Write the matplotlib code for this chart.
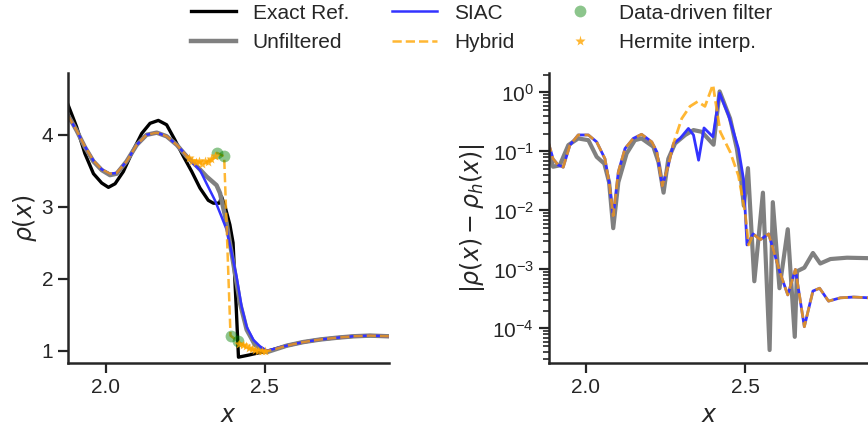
import matplotlib
matplotlib.use("Agg")
import matplotlib.pyplot as plt
from matplotlib.lines import Line2D

plt.rcParams['font.family'] = ['Liberation Sans', 'DejaVu Sans']
plt.rcParams['mathtext.fontset'] = 'dejavusans'
plt.rcParams['text.color'] = '#262626'
plt.rcParams['axes.labelcolor'] = '#262626'
plt.rcParams['xtick.color'] = '#262626'
plt.rcParams['ytick.color'] = '#262626'

# ---- left panel: density ----
x_exact = [1.88, 1.908, 1.934, 1.961, 1.987, 2.008, 2.029, 2.055, 2.081, 2.113, 2.139, 2.165,
           2.191, 2.217, 2.244, 2.270, 2.296, 2.322, 2.338, 2.357, 2.364, 2.375, 2.39, 2.40,
           2.41, 2.417, 2.45, 2.48, 2.506, 2.569, 2.621, 2.673, 2.726, 2.778, 2.831, 2.89]
rho_exact = [4.43, 4.11, 3.74, 3.46, 3.33, 3.27, 3.32, 3.49, 3.74, 4.02, 4.16, 4.20,
             4.14, 3.93, 3.70, 3.49, 3.26, 3.09, 3.05, 3.05, 3.14, 3.00, 2.75, 2.50,
             1.60, 0.91, 0.94, 0.97, 0.99, 1.07, 1.12, 1.155, 1.18, 1.20, 1.21, 1.20]

x_unf = [1.88, 1.908, 1.934, 1.961, 1.987, 2.013, 2.034, 2.065, 2.097, 2.128, 2.160, 2.191,
         2.223, 2.254, 2.287, 2.317, 2.348, 2.359, 2.38, 2.401, 2.422, 2.443, 2.469, 2.506,
         2.569, 2.621, 2.673, 2.726, 2.778, 2.831, 2.89]
rho_unf = [4.28, 4.06, 3.83, 3.63, 3.51, 3.44, 3.46, 3.63, 3.86, 4.00, 4.03, 3.98,
           3.86, 3.70, 3.56, 3.42, 3.30, 3.19, 2.77, 2.21, 1.66, 1.29, 1.08, 0.98,
           1.07, 1.12, 1.155, 1.18, 1.20, 1.21, 1.20]

x_siac = [1.88, 1.908, 1.934, 1.961, 1.987, 2.013, 2.034, 2.065, 2.097, 2.128, 2.160, 2.191,
          2.223, 2.254, 2.275, 2.296, 2.317, 2.343, 2.364, 2.38, 2.396, 2.411, 2.427, 2.443,
          2.464, 2.485, 2.506, 2.569, 2.621, 2.673, 2.726, 2.778, 2.831, 2.89]
rho_siac = [4.27, 4.06, 3.84, 3.64, 3.52, 3.46, 3.47, 3.63, 3.86, 4.00, 4.03, 3.98,
            3.86, 3.71, 3.60, 3.51, 3.32, 3.09, 2.86, 2.68, 2.35, 2.03, 1.61, 1.33,
            1.15, 1.06, 1.00, 1.07, 1.12, 1.155, 1.18, 1.20, 1.21, 1.20]

x_hyb = [1.88, 1.908, 1.934, 1.961, 1.987, 2.013, 2.034, 2.065, 2.097, 2.128, 2.160, 2.191,
         2.223, 2.254, 2.265, 2.286, 2.312, 2.333, 2.349, 2.372, 2.392, 2.415, 2.438, 2.459,
         2.48, 2.495, 2.506, 2.569, 2.621, 2.673, 2.726, 2.778, 2.831, 2.89]
rho_hyb = [4.27, 4.06, 3.84, 3.64, 3.52, 3.46, 3.47, 3.63, 3.86, 4.00, 4.03, 3.98,
           3.86, 3.71, 3.67, 3.63, 3.61, 3.66, 3.75, 3.70, 1.21, 1.13, 1.06, 1.02,
           1.00, 0.99, 0.99, 1.07, 1.12, 1.155, 1.18, 1.20, 1.21, 1.20]

x_dd = [2.349, 2.372, 2.392, 2.415]
rho_dd = [3.75, 3.70, 1.21, 1.13]

x_herm = [2.262, 2.272, 2.282, 2.292, 2.302, 2.312, 2.322, 2.332, 2.342,
          2.42, 2.43, 2.44, 2.45, 2.46, 2.47, 2.48, 2.49, 2.50]
rho_herm = [3.68, 3.64, 3.62, 3.64, 3.60, 3.63, 3.62, 3.66, 3.71,
            1.10, 1.08, 1.06, 1.04, 1.02, 1.01, 1.00, 0.99, 0.99]

# ---- right panel: pointwise error ----
x_err_unf = [1.882, 1.897, 1.918, 1.945, 1.976, 2.008, 2.034, 2.058, 2.073, 2.086, 2.102, 2.128,
             2.154, 2.175, 2.212, 2.228, 2.244, 2.259, 2.280, 2.312, 2.338, 2.364, 2.401, 2.420,
             2.453, 2.474, 2.485, 2.496, 2.509, 2.529, 2.556, 2.577, 2.587, 2.608, 2.634, 2.656,
             2.663, 2.686, 2.713, 2.736, 2.768, 2.82, 2.89]
err_unf = [0.112, 0.055, 0.058, 0.128, 0.166, 0.155, 0.081, 0.062, 0.030, 0.0050, 0.030, 0.092,
           0.155, 0.166, 0.12, 0.066, 0.020, 0.075, 0.136, 0.19, 0.23, 0.215, 0.13, 1.04,
           0.36, 0.112, 0.045, 0.012, 0.052, 6.3e-4, 0.020, 4.3e-5, 0.0138, 4.8e-4, 4.8e-3, 7.2e-5,
           9.3e-4, 1.07e-3, 1.9e-3, 1.26e-3, 1.5e-3, 1.58e-3, 1.55e-3]

x_err_siac = [1.882, 1.897, 1.913, 1.929, 1.950, 1.976, 2.008, 2.034, 2.060, 2.073, 2.086, 2.102,
              2.123, 2.149, 2.175, 2.207, 2.223, 2.240, 2.259, 2.275, 2.296, 2.322, 2.338, 2.354,
              2.371, 2.399, 2.420, 2.448, 2.479, 2.495, 2.506, 2.525, 2.548, 2.574, 2.61, 2.634,
              2.658, 2.686, 2.713, 2.734, 2.762, 2.799, 2.841, 2.89]
err_siac = [0.145, 0.075, 0.059, 0.054, 0.128, 0.19, 0.19, 0.145, 0.075, 0.030, 0.0081, 0.045,
            0.112, 0.166, 0.195, 0.145, 0.098, 0.026, 0.058, 0.136, 0.166, 0.245, 0.19, 0.071,
            0.25, 0.177, 0.97, 0.41, 0.112, 0.034, 2.6e-3, 4.0e-3, 3.2e-3, 4.0e-3, 8.7e-4, 3.7e-4,
            1.0e-3, 1.07e-4, 4.3e-4, 4.8e-4, 2.9e-4, 3.3e-4, 3.4e-4, 3.3e-4]

x_err_hyb = [1.882, 1.897, 1.913, 1.929, 1.950, 1.976, 2.008, 2.034, 2.060, 2.073, 2.086, 2.102,
             2.123, 2.149, 2.175, 2.207, 2.223, 2.240, 2.259, 2.275, 2.301, 2.327, 2.351, 2.374,
             2.399, 2.422, 2.453, 2.479, 2.500, 2.511, 2.525, 2.548, 2.574, 2.61, 2.634,
             2.658, 2.686, 2.713, 2.734, 2.762, 2.799, 2.841, 2.89]
err_hyb = [0.145, 0.075, 0.059, 0.054, 0.128, 0.19, 0.19, 0.145, 0.075, 0.030, 0.0081, 0.045,
           0.112, 0.166, 0.195, 0.145, 0.098, 0.026, 0.058, 0.136, 0.36, 0.58, 0.70, 0.58,
           1.35, 0.215, 0.098, 0.039, 0.0093, 2.6e-3, 4.0e-3, 3.2e-3, 4.0e-3, 8.7e-4, 3.7e-4,
           1.0e-3, 1.07e-4, 4.3e-4, 4.8e-4, 2.9e-4, 3.3e-4, 3.4e-4, 3.3e-4]

fig = plt.figure(figsize=(8.68, 4.29), dpi=100)
ax1 = fig.add_axes([0.078, 0.154, 0.370, 0.676])
ax2 = fig.add_axes([0.632, 0.154, 0.3695, 0.676])

c_exact = 'black'
c_unf = 'grey'
c_siac = (0.2, 0.2, 1.0)
c_hyb = (1.0, 0.647, 0.0, 0.8)
c_dd = (0.0, 0.5, 0.0, 0.45)

ax1.plot(x_exact, rho_exact, color=c_exact, lw=2.4)
ax1.plot(x_unf, rho_unf, color=c_unf, lw=3.2)
ax1.plot(x_siac, rho_siac, color=c_siac, lw=1.8)
ax1.plot(x_hyb, rho_hyb, color=c_hyb, lw=1.8, ls='--')
ax1.plot(x_dd, rho_dd, 'o', color=c_dd, ms=8.5, mec='none')
ax1.plot(x_herm, rho_herm, '*', color=c_hyb, ms=7, mec='none')
ax1.set_xlim(1.88, 2.89)
ax1.set_ylim(0.83, 4.86)
ax1.set_xticks([2.0, 2.5])
ax1.set_yticks([1, 2, 3, 4])
ax1.set_xlabel('$x$', fontsize=17, labelpad=6)
ax1.set_ylabel(r'$\rho(x)$', fontsize=17, labelpad=2)

ax2.semilogy(x_err_unf, err_unf, color=c_unf, lw=3.0)
ax2.semilogy(x_err_siac, err_siac, color=c_siac, lw=2.0)
ax2.semilogy(x_err_hyb, err_hyb, color=c_hyb, lw=2.0, ls='--')
ax2.set_xlim(1.883, 2.89)
ax2.set_ylim(2.6e-5, 2.14)
ax2.set_xticks([2.0, 2.5])
ax2.set_xlabel('$x$', fontsize=17, labelpad=6)
ax2.set_ylabel(r'$|\rho(x)-\rho_h(x)|$', fontsize=17)

for ax in (ax1, ax2):
    for s in ('top', 'right'):
        ax.spines[s].set_visible(False)
    for s in ('left', 'bottom'):
        ax.spines[s].set_linewidth(1.8)
        ax.spines[s].set_color('#262626')
    ax.tick_params(which='major', length=7, width=1.6, labelsize=15)
    ax.tick_params(which='minor', length=4, width=1.2)

handles = [Line2D([], [], color=c_exact, lw=2.4),
           Line2D([], [], color=c_unf, lw=3.2),
           Line2D([], [], color=c_siac, lw=1.8),
           Line2D([], [], color=c_hyb, lw=1.8, ls='--'),
           Line2D([], [], ls='none', marker='o', color=c_dd, ms=8.5, mec='none'),
           Line2D([], [], ls='none', marker='*', color=c_hyb, ms=8, mec='none')]
labels = ['Exact Ref.', 'Unfiltered', 'SIAC', 'Hybrid', 'Data-driven filter', 'Hermite interp.']
fig.legend(handles, labels, ncol=3, frameon=False, loc='upper center',
           bbox_to_anchor=(0.555, 1.035), fontsize=15, handlelength=2.16,
           handletextpad=0.82, columnspacing=2.06, labelspacing=0.5)

fig.savefig('out.png', dpi=100)
